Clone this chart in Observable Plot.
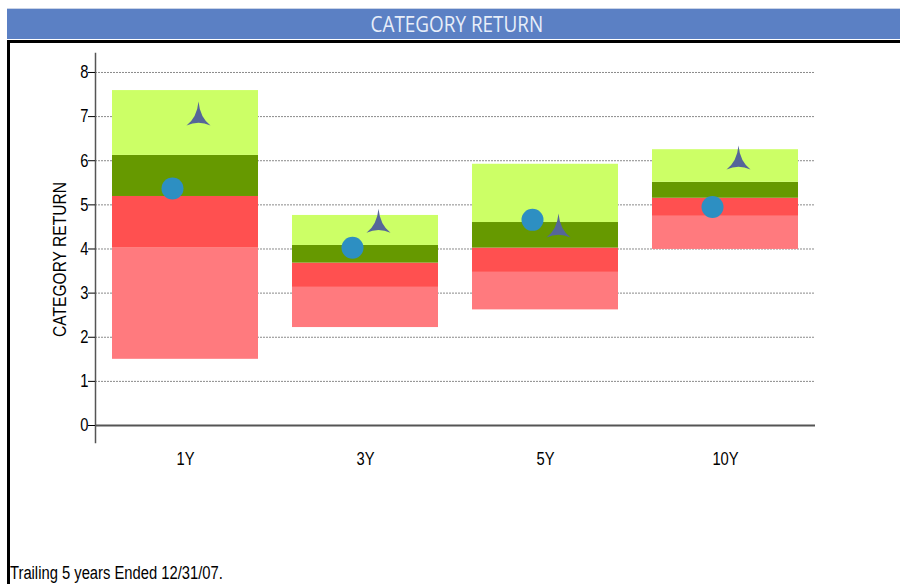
<!DOCTYPE html>
<html>
<head>
<meta charset="utf-8">
<script src="https://cdn.jsdelivr.net/npm/d3@7"></script>
<script src="https://cdn.jsdelivr.net/npm/@observablehq/plot@0.6"></script>
<style>
  body { margin: 0; background: #fff; }
  #wrap { position: relative; width: 900px; height: 584px; overflow: hidden; background: #fff; }
  #chart { position: absolute; left: 0; top: 0; z-index: 1; }
  #banner { position: absolute; left: 7px; top: 8px; width: 893px; height: 31px; background: #5b80c4;
    border-top: 1px solid #c9d3e6; color: #e8eef9; font-family: "Open Sans", sans-serif; font-size: 21px;
    text-align: center; line-height: 31px; z-index: 2; padding-left: 7px; box-sizing: border-box; }
  #banner span { display: inline-block; transform: scaleX(0.9); }
  #box { position: absolute; left: 7px; top: 40px; width: 900px; height: 600px; border-left: 3px solid #000;
    border-top: 3px solid #000; z-index: 2; }
  #caption { position: absolute; left: 10px; top: 563px; font-family: "Liberation Sans", Arial, sans-serif;
    font-size: 18px; line-height: normal; color: #000; z-index: 3; white-space: nowrap;
    transform: scaleX(0.82); transform-origin: 0 0; }
</style>
</head>
<body>
<div id="wrap">
  <div id="chart"></div>
  <div id="banner"><span>CATEGORY RETURN</span></div>
  <div id="box"></div>
  <div id="caption">Trailing 5 years Ended 12/31/07.</div>
</div>
<script>
const categories = ["1Y", "3Y", "5Y", "10Y"];
const low    = [1.50, 2.22, 2.62, 3.99];
const q1     = [4.02, 3.13, 3.47, 4.74];
const median = [5.19, 3.68, 4.02, 5.15];
const q3     = [6.12, 4.08, 4.60, 5.51];
const high   = [7.59, 4.76, 5.92, 6.25];
const fundReturn  = [5.37, 4.03, 4.66, 4.95];
const benchReturn = [6.89, 4.46, 4.35, 5.89];
const yTicks = [0, 1, 2, 3, 4, 5, 6, 7, 8];
const yLabel = "CATEGORY RETURN";

const bandColors = ["#ff7a7e", "#ff5050", "#669900", "#ccff66"];
const segments = [];
categories.forEach((c, i) => {
  const edges = [low[i], q1[i], median[i], q3[i], high[i]];
  for (let k = 0; k < 4; k++) segments.push({cat: c, y1: edges[k], y2: edges[k + 1], color: bandColors[k]});
});
const points = categories.map((c, i) => ({cat: c, fund: fundReturn[i], bench: benchReturn[i]}));

const star = {
  draw(ctx) {
    ctx.moveTo(0, -20);
    ctx.quadraticCurveTo(1.5, -4, 12, 4);
    ctx.quadraticCurveTo(0, -1.5, -12, 4);
    ctx.quadraticCurveTo(-1.5, -4, 0, -20);
    ctx.closePath();
  }
};

const font = '"Liberation Sans", Arial, sans-serif';

const chart = Plot.plot({
  width: 900,
  height: 584,
  marginTop: 53,
  marginBottom: 142,
  marginLeft: 95,
  marginRight: 85,
  style: {background: "transparent", fontFamily: font, fontSize: "18px", color: "#000", overflow: "visible"},
  x: {type: "band", domain: categories, paddingInner: 0.19, paddingOuter: 0.095, label: null},
  y: {domain: [-0.385, 8.43], label: null},
  marks: [
    Plot.gridY(yTicks.filter(d => d > 0), {stroke: "#8a8a8a", strokeOpacity: 1, strokeDasharray: "2,1", strokeWidth: 1}),
    Plot.barY(segments, {x: "cat", y1: "y1", y2: "y2", fill: "color"}),
    Plot.dot(points, {x: "cat", y: "fund", r: 11, fill: "#2d8fc2", dx: -13}),
    Plot.dot(points, {x: "cat", y: "bench", r: 11, symbol: star, fill: "#556699", dx: 13}),
    Plot.ruleY([0], {stroke: "#555", strokeWidth: 2}),
    Plot.frame({anchor: "left", stroke: "#555", strokeWidth: 1.5}),
    Plot.axisY({ticks: yTicks, tickSize: 7, tickPadding: 0, tickFormat: d => String(d), label: null, fontSize: 18, stroke: "#000"}),
    Plot.axisX({tickSize: 0, tickPadding: 10, label: null, fontSize: 18}),
    Plot.text([yLabel], {frameAnchor: "left", textAnchor: "middle", rotate: -90, dx: -36, dy: 11.5, fontSize: 19, fill: "#000"})
  ]
});

// emulate a narrow (condensed) face by compressing each label along its own baseline
chart.querySelectorAll("text").forEach(t => {
  const tr = t.getAttribute("transform");
  if (tr) {
    t.setAttribute("transform", tr + " scale(0.82,1)");
  } else {
    const x = +t.getAttribute("x") || 0, y = +t.getAttribute("y") || 0;
    t.setAttribute("transform", `translate(${x},${y}) scale(0.82,1) translate(${-x},${-y})`);
  }
});
document.getElementById("chart").appendChild(chart);
</script>
</body>
</html>
